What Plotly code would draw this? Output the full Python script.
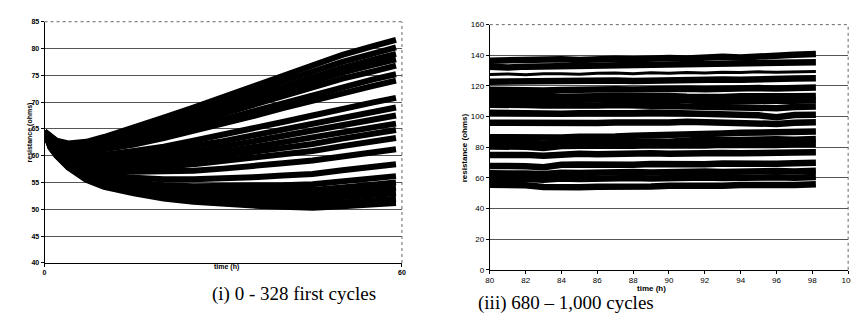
import plotly.graph_objects as go

# ---------------- left panel data: (i) 0 - 328 first cycles ----------------
t_left = [0, 1, 2, 4, 7, 10, 15, 20, 25, 30, 35, 40, 45, 50, 55, 59]
c01 = [64.5, 63.6, 62.8, 62.3, 62.6, 63.5, 65.2, 67.1, 69.0, 71.0, 73.0, 75.0, 77.0, 78.8, 80.4, 81.6]
c02 = [64.5, 63.5, 62.7, 62.1, 62.3, 63.1, 64.6, 66.4, 68.2, 70.1, 72.0, 73.9, 75.8, 77.5, 79.0, 80.2]
c03 = [64.5, 63.4, 62.6, 61.9, 62.0, 62.7, 64.2, 65.8, 67.5, 69.3, 71.1, 72.9, 74.7, 76.4, 77.9, 79.0]
c04 = [64.5, 63.4, 62.5, 61.8, 61.8, 62.4, 63.8, 65.3, 66.9, 68.6, 70.4, 72.1, 73.8, 75.5, 76.9, 78.0]
c05 = [64.5, 63.3, 62.4, 61.6, 61.5, 62.0, 63.3, 64.7, 66.2, 67.8, 69.5, 71.1, 72.8, 74.4, 75.7, 76.8]
c06 = [64.5, 63.2, 62.2, 61.4, 61.1, 61.5, 62.6, 63.9, 65.3, 66.8, 68.3, 69.8, 71.4, 72.9, 74.2, 75.2]
c07 = [64.5, 63.1, 62.1, 61.2, 60.8, 61.2, 62.1, 63.3, 64.6, 66.0, 67.4, 68.9, 70.3, 71.8, 73.0, 74.0]
c08 = [64.5, 62.9, 61.8, 60.7, 60.1, 60.2, 60.9, 61.7, 62.8, 63.9, 65.1, 66.3, 67.5, 68.8, 69.9, 70.8]
c09 = [64.5, 62.7, 61.6, 60.4, 59.7, 59.7, 60.1, 60.9, 61.7, 62.7, 63.8, 64.9, 65.9, 67.1, 68.2, 69.0]
c10 = [64.5, 62.6, 61.5, 60.2, 59.3, 59.2, 59.5, 60.1, 60.8, 61.7, 62.7, 63.6, 64.6, 65.7, 66.7, 67.5]
c11 = [64.5, 62.5, 61.4, 60.0, 59.0, 58.7, 58.9, 59.4, 60.0, 60.7, 61.6, 62.4, 63.3, 64.3, 65.3, 66.0]
c12 = [64.5, 62.4, 61.3, 59.8, 58.7, 58.4, 58.5, 58.8, 59.3, 60.0, 60.7, 61.5, 62.2, 63.2, 64.1, 64.8]
c13 = [64.5, 62.3, 61.1, 59.6, 58.3, 57.9, 57.9, 58.0, 58.4, 59.0, 59.6, 60.3, 60.9, 61.8, 62.6, 63.3]
c14 = [64.5, 62.2, 60.9, 59.3, 57.8, 57.3, 57.0, 57.0, 57.2, 57.6, 58.0, 58.6, 59.1, 59.9, 60.6, 61.2]
c15 = [64.5, 62.0, 60.7, 58.9, 57.2, 56.4, 55.9, 55.6, 55.6, 55.7, 56.0, 56.3, 56.6, 57.3, 57.9, 58.4]
c16 = [64.5, 61.9, 60.5, 58.5, 56.7, 55.7, 55.0, 54.5, 54.3, 54.3, 54.4, 54.5, 54.7, 55.2, 55.8, 56.2]
c17 = [64.5, 61.8, 60.4, 58.4, 56.4, 55.4, 54.5, 53.9, 53.6, 53.5, 53.5, 53.6, 53.6, 54.1, 54.6, 55.0]
c18 = [64.5, 61.7, 60.3, 58.2, 56.2, 55.1, 54.1, 53.4, 53.0, 52.8, 52.8, 52.8, 52.8, 53.2, 53.6, 54.0]
c19 = [64.5, 61.6, 60.2, 58.1, 55.9, 54.8, 53.7, 52.9, 52.4, 52.2, 52.0, 52.0, 51.9, 52.3, 52.7, 53.0]
c20 = [64.5, 61.6, 60.1, 57.9, 55.7, 54.4, 53.3, 52.4, 51.9, 51.5, 51.3, 51.1, 51.0, 51.3, 51.7, 52.0]
c21 = [64.5, 61.5, 60.0, 57.8, 55.5, 54.2, 53.0, 52.0, 51.4, 51.0, 50.7, 50.5, 50.3, 50.6, 50.9, 51.2]
left_series = [c01, c02, c03, c04, c05, c06, c07, c08, c09, c10, c11,
               c12, c13, c14, c15, c16, c17, c18, c19, c20, c21]
left_yticks = [40, 45, 50, 55, 60, 65, 70, 75, 80, 85]
left_xticks = [0, 60]

# ---------------- right panel data: (iii) 680 - 1,000 cycles ----------------
t_right = [80, 81, 82, 83, 84, 85, 86, 87, 88, 89, 90, 91, 92, 93, 94, 95, 96, 97, 98.2]
r01 = [136.5, 136.8, 137.2, 136.9, 137.4, 137.0, 137.5, 137.8, 137.4, 138.0, 138.3, 137.9, 138.5, 139.0, 138.6, 139.5, 139.8, 140.3, 140.8]
r02 = [132.5, 132.0, 132.6, 132.8, 132.3, 133.0, 132.7, 133.2, 133.5, 133.0, 133.6, 134.0, 133.5, 134.2, 134.5, 134.1, 134.8, 135.2, 135.5]
r03 = [127.5, 127.8, 127.3, 127.9, 128.0, 127.6, 128.2, 128.5, 128.0, 128.6, 128.3, 128.8, 128.5, 129.0, 128.7, 129.2, 129.0, 129.4, 129.5]
r04 = [122.8, 123.0, 122.6, 123.2, 122.9, 123.3, 123.0, 123.5, 123.2, 123.6, 123.4, 124.0, 123.8, 124.2, 124.0, 124.5, 124.3, 124.8, 125.0]
r05 = [117.5, 117.2, 117.6, 117.0, 117.4, 117.8, 117.5, 117.9, 117.6, 118.0, 117.8, 118.2, 117.9, 118.4, 118.2, 118.6, 118.4, 118.8, 119.0]
r06 = [113.5, 113.8, 113.2, 113.6, 113.0, 113.4, 113.1, 113.5, 113.3, 113.7, 113.4, 113.0, 112.5, 112.8, 113.2, 113.0, 113.4, 113.2, 113.5]
r07 = [110.5, 110.0, 110.4, 109.8, 110.8, 111.2, 110.9, 111.3, 111.0, 111.5, 111.2, 110.8, 109.5, 109.8, 110.2, 110.0, 110.5, 110.3, 110.6]
r08 = [107.8, 108.0, 107.5, 107.2, 107.0, 107.4, 107.2, 107.6, 107.3, 107.8, 107.5, 107.0, 106.0, 105.8, 106.2, 106.0, 105.5, 106.2, 106.5]
r09 = [102.5, 102.2, 102.8, 102.4, 101.8, 102.2, 102.0, 102.5, 102.2, 102.6, 102.3, 102.0, 101.5, 101.8, 101.4, 100.8, 99.5, 101.0, 101.2]
r10 = [96.0, 95.8, 96.3, 96.0, 95.6, 96.0, 95.8, 96.2, 96.0, 96.4, 96.2, 96.6, 96.3, 96.8, 96.5, 96.2, 95.2, 96.0, 96.3]
r11 = [86.5, 86.2, 86.8, 86.0, 86.3, 86.8, 86.5, 87.0, 87.5, 88.0, 87.6, 88.5, 89.5, 89.0, 89.4, 89.8, 89.5, 90.0, 90.2]
r12 = [83.0, 83.4, 83.0, 82.5, 83.2, 83.5, 83.2, 83.6, 83.3, 83.8, 83.5, 84.5, 85.0, 84.6, 85.0, 84.8, 85.2, 84.9, 85.3]
r13 = [80.5, 80.8, 80.3, 79.5, 80.8, 81.0, 80.7, 81.2, 80.9, 81.3, 81.0, 81.5, 81.2, 81.6, 81.3, 81.8, 81.5, 81.9, 82.0]
r14 = [75.0, 75.4, 75.0, 74.5, 75.5, 75.8, 75.4, 75.9, 75.6, 76.0, 75.7, 76.2, 75.9, 76.3, 76.0, 76.5, 76.2, 76.6, 76.8]
r15 = [67.8, 68.2, 67.6, 67.0, 68.5, 68.8, 68.4, 68.9, 68.6, 69.0, 68.7, 69.2, 68.9, 69.3, 69.0, 69.5, 69.2, 69.6, 69.8]
r16 = [63.0, 63.3, 62.8, 62.5, 63.4, 63.2, 63.6, 63.3, 63.8, 63.5, 64.0, 63.7, 64.2, 63.9, 64.3, 64.0, 64.5, 64.2, 64.6]
r17 = [59.5, 59.8, 59.2, 58.8, 59.6, 59.3, 59.8, 59.5, 59.9, 59.6, 60.0, 59.7, 60.2, 59.9, 60.3, 60.0, 60.4, 60.1, 60.5]
r18 = [55.5, 55.8, 55.2, 54.0, 53.5, 53.8, 54.2, 54.0, 54.5, 54.3, 54.8, 54.5, 55.0, 54.8, 55.3, 55.0, 55.5, 55.3, 55.8]
right_series = [r01, r02, r03, r04, r05, r06, r07, r08, r09,
                r10, r11, r12, r13, r14, r15, r16, r17, r18]
right_yticks = [0, 20, 40, 60, 80, 100, 120, 140, 160]
right_xticks = [80, 82, 84, 86, 88, 90, 92, 94, 96, 98, 100]

W, H = 859, 331

fig = go.Figure()
for s in left_series:
    fig.add_trace(go.Scatter(x=t_left, y=s, mode="lines", xaxis="x", yaxis="y",
                             line=dict(color="black", width=6), showlegend=False,
                             hoverinfo="skip"))
for s in right_series:
    w = 3 if s is r03 else 6.5
    fig.add_trace(go.Scatter(x=t_right, y=s, mode="lines", xaxis="x2", yaxis="y2",
                             line=dict(color="black", width=w), showlegend=False,
                             hoverinfo="skip"))

tickfont_l = dict(family="Liberation Sans", size=7, color="black")
tickfont_r = dict(family="Liberation Sans", size=8, color="black")


def px_x(p):
    return p / W


def px_y(p):
    return 1 - p / H


axis_common = dict(showline=True, linecolor="black", linewidth=1, ticks="outside",
                   ticklen=3, tickcolor="black", zeroline=False)

fig.update_layout(
    width=W, height=H,
    margin=dict(l=0, r=0, t=0, b=0),
    paper_bgcolor="white", plot_bgcolor="white",
    xaxis=dict(domain=[px_x(33), px_x(395)], range=[0, 60], anchor="y",
               tickvals=left_xticks, ticktext=["<b>%d</b>" % v for v in left_xticks],
               tickfont=tickfont_l, showgrid=False, **axis_common),
    yaxis=dict(domain=[px_y(258), px_y(10)], range=[40, 85], anchor="x",
               tickvals=left_yticks, ticktext=["<b>%d</b>" % v for v in left_yticks],
               tickfont=tickfont_l, showgrid=True, gridcolor="#555", gridwidth=1,
               **axis_common),
    xaxis2=dict(domain=[px_x(484), px_x(847)], range=[80, 100], anchor="y2",
                tickvals=right_xticks, tickfont=tickfont_r, showgrid=False,
                **axis_common),
    yaxis2=dict(domain=[px_y(265), px_y(13)], range=[0, 160], anchor="x2",
                tickvals=right_yticks, tickfont=tickfont_r, showgrid=True,
                gridcolor="#555", gridwidth=1, **axis_common),
)

# dotted plot-area border (top and right)
for xr, yr in (("x domain", "y domain"), ("x2 domain", "y2 domain")):
    fig.add_shape(type="line", xref=xr, yref=yr, x0=0, x1=1, y0=1, y1=1,
                  line=dict(color="#666", width=1, dash="dot"))
    fig.add_shape(type="line", xref=xr, yref=yr, x0=1, x1=1, y0=0, y1=1,
                  line=dict(color="#666", width=1, dash="dot"))

ann = []
ann.append(dict(text="<b>resistance (ohms)</b>", x=px_x(12), y=px_y(124), xref="paper", yref="paper",
                textangle=-90, showarrow=False, font=dict(family="Liberation Sans", size=7, color="black")))
ann.append(dict(text="<b>time (h)</b>", x=px_x(203), y=px_y(268), xref="paper", yref="paper",
                showarrow=False, font=dict(family="Liberation Sans", size=7, color="black")))
ann.append(dict(text="<b>resistance (ohms)</b>", x=px_x(458), y=px_y(140), xref="paper", yref="paper",
                textangle=-90, showarrow=False, font=dict(family="Liberation Sans", size=8, color="black")))
ann.append(dict(text="<b>time (h)</b>", x=px_x(665), y=px_y(291), xref="paper", yref="paper",
                showarrow=False, font=dict(family="Liberation Sans", size=8, color="black")))
ann.append(dict(text="(i) 0 - 328 first cycles", x=px_x(201), y=px_y(303), xref="paper", yref="paper",
                showarrow=False, font=dict(family="Liberation Serif", size=19, color="black")))
ann.append(dict(text="(iii) 680 \u2013 1,000 cycles", x=px_x(652), y=px_y(313), xref="paper", yref="paper",
                showarrow=False, font=dict(family="Liberation Serif", size=19, color="black")))
fig.update_layout(annotations=ann)

fig.write_html("out.html")
